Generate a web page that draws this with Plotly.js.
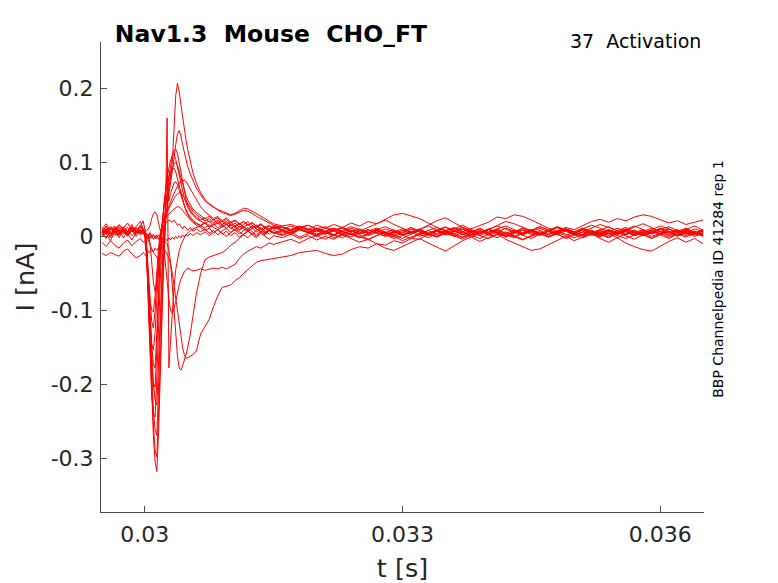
<!DOCTYPE html>
<html>
<head>
<meta charset="utf-8">
<script src="https://cdn.plot.ly/plotly-3.0.1.min.js"></script>
<style>
  html, body { margin: 0; padding: 0; background: #fff; }
  #plot1 { width: 778px; height: 583px; }
</style>
</head>
<body>
<div id="plot1"></div>
<script>
// sample times in ms (finer around the voltage step at 30 ms)
var tMs = [
  29.50, 29.55, 29.60, 29.65, 29.70, 29.75, 29.80, 29.85, 29.90, 29.95, 29.98,
  30.00, 30.02, 30.04, 30.06, 30.08, 30.10, 30.12, 30.14, 30.16, 30.18, 30.20, 30.22, 30.24, 30.26,
  30.28, 30.30, 30.32, 30.34, 30.36, 30.38, 30.40, 30.42, 30.44, 30.46, 30.48, 30.50, 30.53, 30.56, 30.60,
  30.65, 30.70, 30.75, 30.80, 30.85, 30.90, 30.95, 31.00, 31.05, 31.10, 31.15, 31.20, 31.25, 31.30,
  31.35, 31.40, 31.45, 31.50,
  31.6, 31.7, 31.8, 31.9, 32.0, 32.1, 32.2, 32.3, 32.4, 32.5, 32.6, 32.7, 32.8, 32.9, 33.0, 33.1, 33.2,
  33.3, 33.4, 33.5, 33.6, 33.7, 33.8, 33.9, 34.0, 34.1, 34.2, 34.3, 34.4, 34.5, 34.6, 34.7, 34.8, 34.9,
  35.0, 35.1, 35.2, 35.3, 35.4, 35.5, 35.6, 35.7, 35.8, 35.9, 36.0, 36.1, 36.2, 36.3, 36.4, 36.5
];

// currents in pA, one array per sweep (same sample times as tMs)
var sw01 = [6, 14, 2, 11, 4, 13, 7, 16, 3, 12, 9,
  4, -20, -80, -150, -215, -270, -305, -318, -265, -185, -105, -35, 15, 45, 65, 80, 100, 145, 190, 207, 196, 178, 160, 145, 130, 117, 100, 86, 72,
  59, 50, 44, 40, 36, 34, 31, 29, 31, 35, 38, 37, 34, 31, 27, 24, 20, 17,
  14, 16, 12, 15, 10, 13, 8, 11, 6, 9, 5, 8, 3, 6, 2, 5, 9, 4, 7, 2, 6, 10, 5, 8, 3, 7, 1, 5, 9, 4, 8, 3, 6, 10, 5, 2, 7, 4, 9, 3, 6, 1, 5, 8, 3, 7, 2, 6, 4, 8];
var sw02 = [3, 8, -2, 12, 5, 10, 0, 9, 6, 15, 7,
  6, -15, -75, -140, -205, -255, -290, -298, -240, -160, -85, -25, 20, 42, 58, 72, 86, 105, 124, 138, 143, 136, 124, 113, 103, 94, 84, 75, 65,
  56, 48, 43, 39, 35, 32, 30, 28, 30, 33, 35, 34, 30, 27, 24, 21, 18, 15,
  12, 9, 13, 8, 11, 6, 10, 4, 8, 3, 7, 11, 5, 9, 2, 6, 0, 4, 8, 3, 7, 12, 8, 4, 9, 5, 11, 7, 3, 8, 13, 9, 5, 10, 6, 2, 7, 3, 8, 5, 9, 4, 1, 6, 10, 5, 8, 3, 7, 2];
var sw03 = [10, 17, 8, 14, 6, 11, 18, 9, 13, 20, 10,
  8, -12, -65, -125, -185, -235, -262, -269, -205, -125, -55, 0, 38, 62, 80, 95, 108, 116, 118, 112, 100, 86, 72, 60, 50, 42, 35, 30, 26,
  22, 25, 19, 23, 17, 21, 16, 19, 14, 18, 12, 16, 11, 15, 9, 13, 10, 14,
  12, 8, 13, 9, 15, 11, 16, 12, 18, 14, 20, 17, 23, 29, 31, 27, 24, 18, 12, 8, 11, 6, 10, 14, 19, 26, 24, 29, 27, 22, 16, 11, 7, 12, 9, 15, 20, 23, 19, 24, 21, 26, 29, 27, 23, 18, 21, 16, 19, 22];
var sw04 = [5, -3, 7, 1, 9, -2, 6, 10, 0, 8, 3,
  2, -25, -90, -160, -215, -240, -244, -190, -120, -50, 5, 40, 62, 78, 92, 103, 109, 110, 104, 94, 82, 70, 60, 52, 45, 39, 33, 28, 24,
  20, 17, 21, 15, 18, 12, 16, 10, 14, 9, 13, 7, 11, 6, 10, 4, 8, 5,
  2, 6, -1, 4, 8, 3, 7, 1, 5, -2, 3, 7, 2, -3, 1, 5, 9, 4, 0, 6, 2, -2, 3, 7, 1, 5, -1, 4, 8, 2, 6, 0, 4, -3, 2, 6, 1, 5, 9, 3, 7, 1, 4, -2, 3, 6, 0, 5, 2, 7];
var sw05 = [8, 12, 4, 10, 16, 9, 5, 13, 7, 13, 21,
  10, -8, -55, -110, -160, -200, -222, -228, -170, -100, -35, 10, 40, 58, 72, 84, 93, 98, 100, 96, 88, 79, 70, 62, 55, 49, 42, 37, 32,
  28, 24, 27, 22, 25, 19, 23, 18, 21, 16, 20, 15, 19, 13, 17, 12, 15, 10,
  13, 9, 14, 10, 6, 11, 7, 12, 8, 4, 9, 5, 10, 6, 2, 7, 3, 8, 12, 7, 3, 9, 5, 1, 6, 10, 4, 8, 2, 7, 11, 6, 2, 8, 4, 0, 5, 9, 3, 7, 12, 6, 2, 8, 4, 10, 5, 1, 6, 3];
var sw06 = [0, 4, -6, 6, -2, 8, 3, -5, 5, 9, 4,
  3, -20, -75, -130, -175, -198, -204, -150, -85, -25, 15, 42, 60, 72, 82, 88, 91, 92, 87, 78, 68, 58, 49, 42, 36, 31, 26, 22, 18,
  15, 19, 13, 17, 11, 15, 20, 16, 12, 17, 13, 9, 14, 10, 6, 11, 7, 12,
  8, 4, 9, 5, 1, 6, -2, 3, 7, 2, -4, 1, 5, 0, -6, -1, 3, -2, 4, 8, 3, -1, 5, 1, -3, 2, 6, 1, -4, 0, 4, -1, 3, 7, 2, -2, 3, -1, 5, 1, -3, 2, 6, 0, 4, -1, 3, 7, 2, 5];
var sw07 = [7, 3, 10, 5, 1, 8, 4, 11, 6, 2, 7,
  5, -15, -60, -110, -150, -172, -178, -130, -70, -20, 15, 35, 55, 89, 48, 58, 66, 72, 74, 70, 63, 55, 47, 40, 34, 29, 24, 20, 17,
  14, 18, 12, 16, 20, 15, 11, 16, 12, 8, 13, 9, 14, 10, 6, 11, 8, 4,
  9, 5, 10, 6, 2, 7, 11, 6, 2, 8, 4, 9, 13, 8, 4, 10, 6, 1, 7, 3, 8, 12, 7, 3, 9, 14, 10, 5, 11, 6, 2, 7, 12, 8, 3, 9, 5, 1, 6, 11, 7, 3, 8, 4, 9, 13, 8, 4, 10, 6];
var sw08 = [2, 6, 0, 5, 9, 3, 7, 1, 6, 4, 8,
  4, -20, -70, -115, -145, -154, -130, -85, -40, -5, 15, 24, 30, 35, 40, 46, 52, 58, 63, 68, 72, 73, 75, 76, 74, 70, 64, 58, 50,
  40, 33, 28, 24, 27, 21, 25, 19, 22, 17, 20, 15, 18, 13, 16, 11, 14, 10,
  12, 7, 11, 5, 9, 3, 8, 12, 6, 10, 4, 8, 2, 6, 10, 5, 9, 14, 8, 3, 7, 2, 6, 11, 5, 9, 4, 0, 5, 9, 3, 7, 12, 8, 4, 9, 3, 7, 1, 6, 10, 5, 9, 3, 7, 2, 6, 11, 5, 8];
var sw09 = [9, 5, 11, 7, 3, 10, 6, 12, 8, 4, 9,
  6, -12, -50, -90, -115, -124, -100, -60, -25, 0, 14, 22, 28, 33, 38, 42, 47, 51, 55, 57, 59, 59, 56, 52, 48, 44, 39, 34, 29,
  25, 21, 24, 18, 22, 16, 20, 14, 18, 12, 16, 20, 15, 11, 16, 12, 8, 13,
  9, 14, 10, 5, 11, 7, 2, 8, 13, 9, 4, 10, 6, 1, 7, 12, 7, 3, 9, 5, 10, 15, 9, 4, 10, 5, 1, 7, 3, 8, 13, 8, 4, 10, 6, 11, 7, 2, 8, 4, 9, 14, 9, 5, 11, 7, 2, 8, 4, 9];
var sw10 = [-8, -14, -6, -12, -16, -9, -5, -13, -7, -3, -8,
  -6, -25, -60, -88, -100, -102, -80, -45, -15, 5, 15, 20, 24, 27, 30, 33, 35, 37, 39, 40, 40, 38, 35, 32, 29, 26, 22, 19, 15,
  12, 8, 11, 5, 9, 3, 7, 1, 5, -1, 3, 7, 2, -2, 4, 0, -4, 1,
  -2, 3, -3, 1, -5, 0, -4, 2, -3, -8, -4, -10, -16, -19, -14, -8, -3, -9, -15, -20, -13, -6, -1, -7, -2, 3, -4, -9, -14, -19, -17, -11, -5, 0, -6, -1, 4, -3, -8, -2, -9, -14, -18, -20, -13, -7, -2, -8, -3, -10];
var sw11 = [4, 8, 2, 6, 10, 5, 1, 7, 3, 9, 5,
  5, 3, 2, -8, -38, -62, -75, -68, -42, -14, 6, 14, 18, 20, 22, 21, 19, 22, 18, 15, 17, 13, 10, 14, 11, 8, 12, 7, 10,
  6, 10, 4, 8, 2, 7, 11, 5, 9, 3, 8, 12, 6, 2, 7, 3, 9, 5,
  1, 6, 10, 5, 0, 4, 8, 3, -1, 5, 9, 4, 0, 6, 2, -3, 3, 8, 2, 7, 12, 6, 1, 5, 10, 4, 0, 6, 11, 5, 1, 7, 2, -2, 4, 9, 3, 8, 13, 7, 2, 6, 1, 5, 10, 4, 9, 3, 7, 1];
var sw12 = [3, 7, 11, 6, 2, 8, 12, 7, 4, 9, 6,
  4, 0, -6, -12, -18, -22, -25, -28, -30, -33, -36, -40, 30, 160, -178, -140, -100, -68, -45, -30, -20, -12, -6, -2, 2, 5, 8, 10, 12,
  14, 11, 16, 12, 9, 13, 17, 12, 8, 14, 10, 6, 11, 15, 10, 5, 9, 13,
  8, 4, 10, 15, 9, 5, 11, 6, 2, 7, 12, 18, 22, 16, 11, 6, 10, 4, 8, 13, 7, 2, 8, 3, 9, 14, 20, 17, 12, 7, 3, 8, 13, 9, 4, 10, 15, 11, 6, 2, 8, 13, 17, 12, 6, 10, 5, 9, 14, 8];
var sw13 = [6, 10, 4, 9, 13, 7, 3, 8, 12, 5, 9,
  7, 2, -4, 5, -2, 3, -3, 2, -4, 1, -5, -2, -8, -10, -18, -35, -65, -100, -135, -162, -178, -181, -175, -168, -160, -150, -132, -108, -78,
  -50, -32, -28, -26, -24, -22, -18, -12, -8, -3, 2, -2, 4, 0, 6, 2, 8, 4,
  7, 2, 9, 5, 11, 6, 1, 7, 3, -2, 4, 9, 3, -1, 5, 10, 6, 1, 7, 12, 8, 3, -1, 4, 9, 5, 0, 6, 2, -3, 3, 8, 4, 10, 6, 1, 7, 3, -2, 4, 8, 2, 7, 11, 6, 1, 5, 10, 4, 0];
var sw14 = [-23, -26, -22, -25, -27, -20, -17, -24, -29, -26, -22,
  -24, -28, -20, -22, -18, -21, -16, -19, -15, -18, -14, -17, -20, -24, -30, -38, -50, -66, -84, -102, -120, -136, -150, -160, -165, -164, -162, -160, -155,
  -132, -122, -112, -95, -80, -69, -67, -66, -60, -56, -50, -45, -39, -35, -33, -32, -31, -30,
  -28, -26, -22, -21, -19, -23, -26, -24, -18, -14, -16, -10, -12, -6, -9, -3, -4, 3, -1, 4, 0, 6, 2, -3, 3, 8, 2, -2, 4, 9, 3, -1, 5, 1, 6, 11, 5, 0, 4, -2, 3, 8, 2, -3, 2, 7, 1, 5, 0, 4];
var sw15 = [5, 9, 3, 8, 12, 6, 2, 7, 11, 6, 3,
  4, -2, 3, -3, 2, -4, 1, -3, 2, -2, -5, -15, -35, -60, -85, -100, -104, -98, -88, -76, -66, -58, -52, -48, -45, -43, -45, -47, -46,
  -44, -46, -45, -43, -44, -42, -44, -41, -38, -30, -24, -20, -17, -14, -16, -12, -9, -11,
  -8, -4, -9, -3, 1, -4, 2, -2, 4, 0, -5, 1, 6, 2, -3, 3, 8, 3, -1, 5, 1, -4, 2, 7, 3, -2, 4, 0, -5, 1, 6, 2, 7, 3, -2, 3, 8, 4, -1, 5, 0, -4, 2, 7, 2, -3, 3, -1, 4, 1];
var sw16 = [11, 7, 13, 9, 15, 10, 6, 12, 8, 14, 10,
  9, 8, 10, 14, 24, 31, 33, 29, 18, 6, -2, -5, -3, -6, -2, -5, -1, -4, 0, -3, 1, -2, 2, -1, 3, 0, 4, 1, 5,
  2, 6, 1, 5, 9, 4, 0, 5, 10, 6, 2, 7, 3, 8, 12, 7, 3, 8,
  4, 9, 13, 8, 3, 7, 2, 6, 11, 6, 1, 5, 0, 4, 8, 3, 9, 15, 21, 25, 18, 12, 6, 10, 5, 9, 14, 9, 4, 8, 3, 7, 12, 7, 2, 6, 11, 16, 12, 7, 3, 8, 4, 9, 14, 10, 5, 9, 4, 8];

var sweeps = [sw01, sw02, sw03, sw04, sw05, sw06, sw07, sw08,
              sw09, sw10, sw11, sw12, sw13, sw14, sw15, sw16];

var xTicks = [0.03, 0.033, 0.036];
var xTickText = ['0.03', '0.033', '0.036'];
var yTicks = [-0.3, -0.2, -0.1, 0, 0.1, 0.2];
var yTickText = ['-0.3', '-0.2', '-0.1', '0', '0.1', '0.2'];

function initiatePlot() {
	var tSec = tMs.map(function (v) { return v / 1000; });

	var data = sweeps.map(function (pA, i) {
		return {
			x: tSec,
			y: pA.map(function (v) { return v / 1000; }),   // pA -> nA
			name: 'sweep ' + (i + 1),
			mode: 'lines',
			line: {
				color: '#FF0000',
				width: 1
			}
		};
	});

	var axisFont = { family: 'DejaVu Sans', size: 22, color: '#262626' };

	var layout = {
		autosize: false,
		width: 778,
		height: 583,
		showlegend: false,
		hovermode: false,
		paper_bgcolor: '#FFFFFF',
		plot_bgcolor: '#FFFFFF',
		margin: { l: 101, r: 74, t: 42, b: 71 },
		font: { family: 'DejaVu Sans', color: '#262626' },
		title: {
			text: '<b>Nav1.3\u00a0\u00a0Mouse\u00a0\u00a0CHO_FT</b>',
			font: { family: 'DejaVu Sans', size: 23.5, color: '#000000' },
			xref: 'paper',
			x: 0.023,
			xanchor: 'left',
			yref: 'container',
			y: 0.942,
			yanchor: 'middle'
		},
		xaxis: {
			range: [0.02949, 0.03651],
			showgrid: false,
			zeroline: false,
			showline: true,
			linecolor: '#4D4D4D',
			linewidth: 1,
			ticks: 'inside',
			ticklen: 6,
			tickcolor: '#4D4D4D',
			tickvals: xTicks,
			ticktext: xTickText,
			tickfont: axisFont,
			ticklabelstandoff: 3,
			title: {
				text: 't [s]',
				font: { family: 'DejaVu Sans', size: 25.5, color: '#262626' },
				standoff: 14
			}
		},
		yaxis: {
			range: [-0.3726, 0.2626],
			showgrid: false,
			zeroline: false,
			showline: true,
			linecolor: '#4D4D4D',
			linewidth: 1,
			ticks: 'inside',
			ticklen: 6,
			tickcolor: '#4D4D4D',
			tickvals: yTicks,
			ticktext: yTickText,
			tickfont: axisFont,
			ticklabelstandoff: 2,
			title: {
				text: 'I [nA]',
				font: { family: 'DejaVu Sans', size: 25.5, color: '#262626' },
				standoff: 8
			}
		},
		annotations: [
			{
				text: '37\u00a0\u00a0Activation',
				xref: 'paper', yref: 'paper',
				x: 0.998, y: 1.002,
				xanchor: 'right', yanchor: 'middle',
				showarrow: false,
				font: { family: 'DejaVu Sans', size: 19, color: '#000000' }
			},
			{
				text: 'BBP Channelpedia ID 41284 rep 1',
				xref: 'paper', yref: 'paper',
				x: 1.023, y: 0.496,
				xanchor: 'center', yanchor: 'middle',
				textangle: -90,
				showarrow: false,
				font: { family: 'DejaVu Sans', size: 14, color: '#000000' }
			}
		]
	};

	Plotly.newPlot('plot1', data, layout, { displayModeBar: false, staticPlot: true });
}

initiatePlot();
</script>
</body>
</html>
